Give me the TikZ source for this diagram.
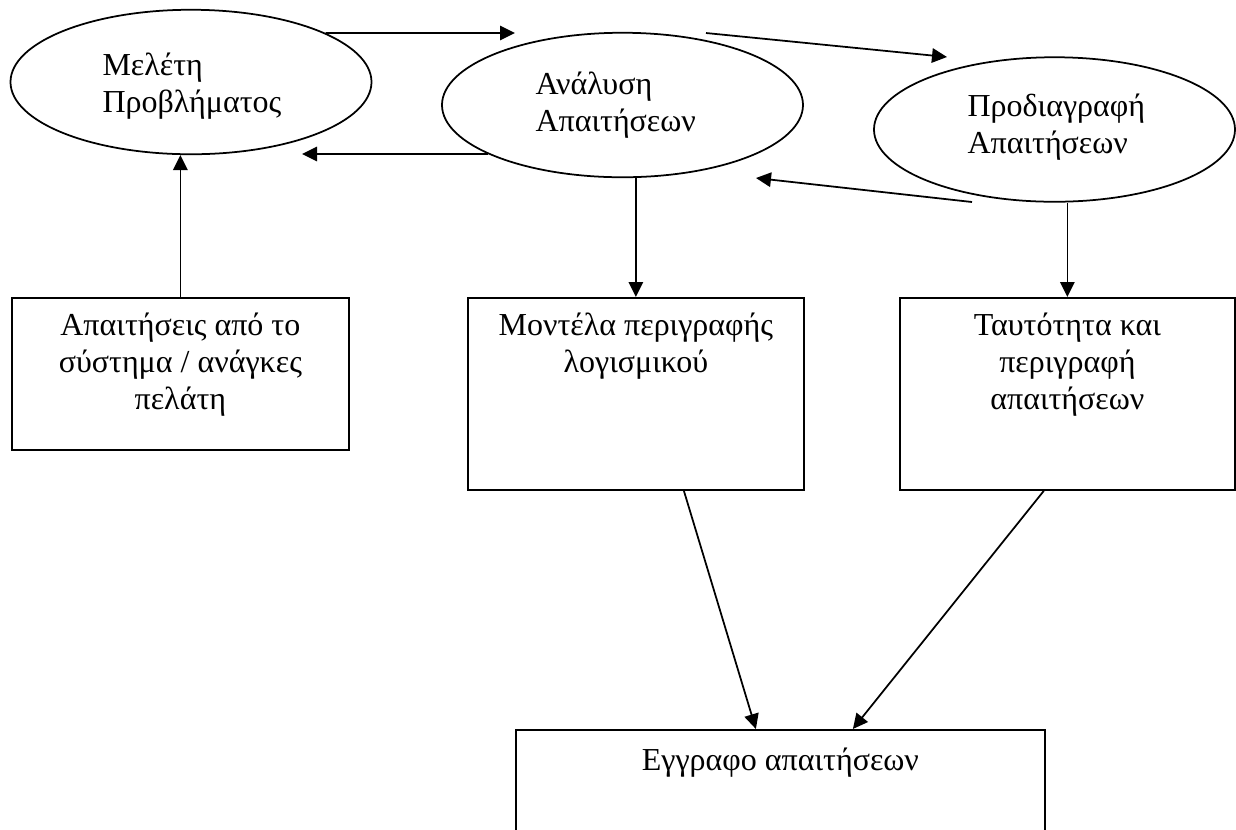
\documentclass[tikz,border=0pt]{standalone}
\usepackage{fontspec}
\setmainfont{Liberation Serif}
\usetikzlibrary{arrows.meta,calc,positioning,shapes.geometric}
\tikzset{
  procbox/.style={ellipse,draw,line width=0.7pt,minimum width=144.4pt,minimum height=57.8pt,inner sep=0pt},
  proctext/.style={align=left,inner sep=0pt,anchor=north west,font=\fontsize{12.8}{14.8}\selectfont,
    execute at begin node=\strut},
  docbox/.style={draw,line width=0.7pt,anchor=north west,inner sep=0pt},
  boxtext/.style={align=center,inner sep=0pt,anchor=north,font=\fontsize{12.8}{14.8}\selectfont,
    execute at begin node=\strut},
  arrow/.style={-{Triangle[length=6pt,width=5.8pt]},line width=0.7pt}
}

\begin{document}
\begin{tikzpicture}[x=0.4pt,y=-0.4pt]
  \clip (0,0) rectangle (1236,829);
  % processes
  \node[procbox] (meleti) at (191,82) {};
  \node[procbox] (analysi) at (622.5,105) {};
  \node[procbox] (prodiag) at (1054.5,129.5) {};
  \node[proctext] (meletiTxt) at (102,52) {Μελέτη\\Προβλήματος};
  \node[proctext] (analysiTxt) at (535,71) {Ανάλυση\\Απαιτήσεων};
  \node[proctext] (prodiagTxt) at (967,93) {Προδιαγραφή\\Απαιτήσεων};
  % documents
  \node[docbox,minimum width=134.8pt,minimum height=60.8pt] (apait) at (11,297) {};
  \node[docbox,minimum width=134.4pt,minimum height=76.8pt] (montela) at (467,297) {};
  \node[docbox,minimum width=134pt,minimum height=76.8pt] (tautot) at (899,297) {};
  \node[docbox,minimum width=211.6pt,minimum height=56pt] (eggrafo) at (515,729) {};
  \node[boxtext] (apaitTxt) at ($(apait.north)+(0,15)$) {Απαιτήσεις από το\\σύστημα / ανάγκες\\πελάτη};
  \node[boxtext] (montelaTxt) at ($(montela.north)+(0,15)$) {Μοντέλα περιγραφής\\λογισμικού};
  \node[boxtext] (tautotTxt) at ($(tautot.north)+(0,15)$) {Ταυτότητα και\\περιγραφή\\απαιτήσεων};
  \node[boxtext] (eggrafoTxt) at ($(eggrafo.north)+(0,15)$) {Εγγραφο απαιτήσεων};
  % free arrow ends
  \coordinate (fwdA) at (515,33);
  \coordinate (fwdBs) at (706,33);
  \coordinate (fwdBe) at (947,57);
  \coordinate (backA) at (302,154);
  \coordinate (backBs) at (972,202);
  \coordinate (backBe) at (756,178);
  % connectors
  \draw[arrow] (meleti.20) -- (fwdA);
  \draw[arrow] (fwdBs) -- (fwdBe);
  \draw[arrow] (analysi.200) -- (backA);
  \draw[arrow] (backBs) -- (backBe);
  \draw[arrow] (apait.north) -- (apait.north |- meleti.south);
  \draw[arrow] (montela.north |- analysi.south) -- (montela.north);
  \draw[arrow] (tautot.north |- prodiag.south) -- (tautot.north);
  \draw[arrow] ($(montela.south)+(48,0)$) -- ($(eggrafo.north)+(-24.5,0)$);
  \draw[arrow] ($(tautot.south)+(-23.5,0)$) -- ($(eggrafo.north)+(72.5,0)$);
\end{tikzpicture}
\end{document}
